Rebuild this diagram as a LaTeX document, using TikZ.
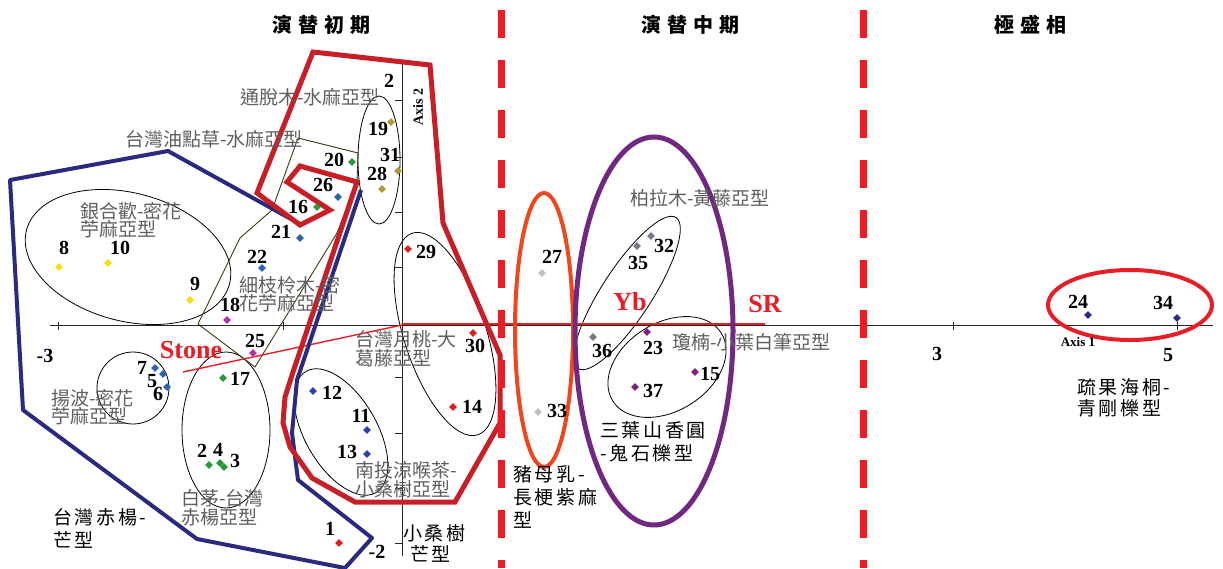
\documentclass[tikz,border=0pt]{standalone}
\usepackage{fontspec}
\setmainfont{Liberation Serif}
\newfontfamily\cjk{Noto Sans CJK TC}
\newfontfamily\cjks[LetterSpace=14]{Noto Sans CJK TC}
\newfontfamily\cjkt[LetterSpace=30]{Noto Sans CJK TC}
\usetikzlibrary{shapes.geometric}
\definecolor{dashred}{RGB}{232,30,38}
\definecolor{polyred}{RGB}{200,30,38}
\definecolor{polyblue}{RGB}{42,42,128}
\definecolor{purp}{RGB}{112,40,128}
\definecolor{orng}{RGB}{240,70,30}
\definecolor{grpgray}{RGB}{95,95,95}
\definecolor{cyel}{RGB}{245,225,0}
\definecolor{csteel}{RGB}{40,100,175}
\definecolor{cgreen}{RGB}{40,150,60}
\definecolor{colive}{RGB}{176,154,48}
\definecolor{cmag}{RGB}{176,48,160}
\definecolor{cred}{RGB}{225,30,30}
\definecolor{cblue}{RGB}{48,64,170}
\definecolor{clgray}{RGB}{190,190,200}
\definecolor{cgray}{RGB}{120,120,135}
\definecolor{cpurp}{RGB}{128,32,128}
\definecolor{cnavy}{RGB}{42,42,128}
\definecolor{yelline}{RGB}{60,60,20}
\begin{document}
\begin{tikzpicture}[x=1pt,y=-1pt,
  num/.style={font=\fontsize{20}{20}\selectfont\bfseries, inner sep=0},
  grp/.style={font=\cjk\fontsize{19}{18.5}\selectfont, text=grpgray, inner sep=0, align=left, anchor=west},
  blk/.style={font=\cjks\fontsize{19}{23}\selectfont, inner sep=0, align=left, anchor=west},
  ttl/.style={font=\cjkt\bfseries\fontsize{20}{20}\selectfont, inner sep=0},
  pt/.style={diamond, fill=#1, inner sep=0, minimum size=8pt},
  redlab/.style={font=\fontsize{26}{26}\selectfont\bfseries, text=dashred, inner sep=0},
  thinline/.style={line width=0.8pt, black},
  axisline/.style={line width=0.8pt, black!85},
  dashline/.style={dashred, line width=7pt, dash pattern=on 28pt off 22pt}
]
\useasboundingbox[fill=white] (0,0) rectangle (1223,568);

% ---------- thin group outlines ----------
\draw[thinline, shift={(128,257)}, rotate=-15] (0,0) ellipse [x radius=105pt, y radius=64pt];
\draw[thinline] (133,388) circle [radius=36pt];
\draw[thinline] (226,430) ellipse [x radius=44pt, y radius=78pt];
\draw[thinline] (379,160) ellipse [x radius=21pt, y radius=64pt];
\draw[thinline, shift={(445,334)}, rotate=-72] (0,0) ellipse [x radius=106pt, y radius=41pt];
\draw[thinline, shift={(341,432)}, rotate=-60] (0,0) ellipse [x radius=70pt, y radius=36pt];
\draw[thinline, shift={(627,293)}, rotate=57] (0,0) ellipse [x radius=90pt, y radius=25pt];
\draw[thinline, shift={(667,367)}, rotate=32] (0,0) ellipse [x radius=64pt, y radius=44pt];
\draw[line width=0.9pt, yelline] (298,138) -- (358,153) -- (357,182) -- (337,233) -- (255,367) -- (198,324) -- (240,238) -- (272,210) -- cycle;

% ---------- axes ----------
\coordinate (hx0) at (50,325); \coordinate (hx1) at (1213,325);
\coordinate (vy0) at (402,64); \coordinate (vy1) at (402,556);
\draw[axisline] (hx0) -- (hx1);
\draw[axisline] (vy0) -- (vy1);
\foreach \t in {100,157,212,267,377,433,488,543} \draw[axisline] (402,\t) -- (395,\t);
\foreach \t in {58,283,953,1177} \draw[axisline] (\t,322) -- (\t,330);

% red reference lines
\coordinate (o) at (402,324);
\coordinate (sr) at (765,324);
\coordinate (st) at (183,372);
\draw[dashred, line width=1.6pt] (o) -- (sr);
\draw[dashred, line width=1.4pt] (st) -- (402,325);

% ---------- big coloured outlines ----------
\draw[polyblue, line width=4pt, line join=round] (300,224) -- (168,151) -- (10,180) -- (23,410) -- (197,539) -- (345,568) -- (372,538) -- (298,480) -- (292,433) -- (297,380) -- (361,190);
\draw[polyred, line width=5pt, line join=miter] (313,52) -- (430,65) -- (443,223) -- (500,355) -- (500,423) -- (455,502) -- (355,502) -- (312,478) -- (290,447) -- (283,423) -- (285,397) -- (293,372) -- (357,182) -- (300,166) -- (287,182) -- (330,210) -- (300,225) -- (257,193) -- cycle;
\draw[orng, line width=4pt] (544,330) ellipse [x radius=29pt, y radius=137pt];
\draw[purp, line width=5pt] (654,331) ellipse [x radius=79pt, y radius=194pt];
\draw[dashred, line width=4pt] (1130,305) ellipse [x radius=82pt, y radius=35pt];

% ---------- dashed separators ----------
\coordinate (d1a) at (501,10); \coordinate (d1b) at (501,568);
\coordinate (d2a) at (863,10); \coordinate (d2b) at (863,568);
\draw[dashline] (d1a) -- (d1b);
\draw[dashline] (d2a) -- (d2b);

% ---------- titles ----------
\node[ttl] (t1) at (321,25) {演替初期};
\node[ttl] (t2) at (690,25) {演替中期};
\node[ttl] (t3) at (1030,25) {極盛相};

% ---------- points ----------
\node[pt=cyel] (p8) at (59,267) {};
\node[pt=cyel] (p10) at (108,263) {};
\node[pt=cyel] (p9) at (190,300) {};
\node[pt=csteel] (p22) at (262,268) {};
\node[pt=cmag] (p18) at (227,320) {};
\node[pt=cmag] (p25) at (253,353) {};
\node[pt=csteel] (p21) at (300,238) {};
\node[pt=cgreen] (p16) at (317,207) {};
\node[pt=csteel] (p26) at (338,197) {};
\node[pt=cgreen] (p20) at (352,162) {};
\node[pt=colive] (p19) at (391,122) {};
\node[pt=colive] (p31) at (398,171) {};
\node[pt=colive] (p28) at (382,189) {};
\node[pt=cred] (p29) at (408,249) {};
\node[pt=cred] (p30) at (473,333) {};
\node[pt=cred] (p14) at (453,407) {};
\node[pt=cblue] (p12) at (313,391) {};
\node[pt=cblue] (p11) at (367,430) {};
\node[pt=cblue] (p13) at (367,454) {};
\node[pt=cred] (p1) at (339,543) {};
\node[pt=csteel] (p7) at (155,368) {};
\node[pt=csteel] (p5) at (163,374) {};
\node[pt=csteel] (p6) at (167,387) {};
\node[pt=cgreen] (p17) at (223,378) {};
\node[pt=cgreen] (p2) at (209,465) {};
\node[pt=cgreen] (p4) at (220,463) {};
\node[pt=cgreen] (p3) at (224,467) {};
\node[pt=clgray] (p27) at (542,273) {};
\node[pt=clgray] (p33) at (538,412) {};
\node[pt=cgray] (p35) at (637,246) {};
\node[pt=cgray] (p32) at (651,236) {};
\node[pt=cgray] (p36) at (593,337) {};
\node[pt=cpurp] (p23) at (647,332) {};
\node[pt=cpurp] (p15) at (695,372) {};
\node[pt=cpurp] (p37) at (635,387) {};
\node[pt=cnavy] (p24) at (1088,315) {};
\node[pt=cnavy] (p34) at (1177,318) {};

% ---------- point labels ----------
\node[num] (l8) at (64,248) {8};
\node[num] (l10) at (120,248) {10};
\node[num] (l9) at (195,284) {9};
\node[num] (l22) at (257,257) {22};
\node[num] (l18) at (230,305) {18};
\node[num] (l25) at (255,341) {25};
\node[num] (l21) at (281,232) {21};
\node[num] (l16) at (298,207) {16};
\node[num] (l26) at (323,185) {26};
\node[num] (l20) at (334,160) {20};
\node[num] (l19) at (378,129) {19};
\node[num] (l31) at (390,155) {31};
\node[num] (l28) at (377,174) {28};
\node[num] (l29) at (426,252) {29};
\node[num] (l30) at (475,346) {30};
\node[num] (l14) at (472,407) {14};
\node[num] (l12) at (332,393) {12};
\node[num] (l11) at (361,416) {11};
\node[num] (l13) at (347,452) {13};
\node[num] (l1) at (330,529) {1};
\node[num] (l7) at (142,368) {7};
\node[num] (l5) at (152,381) {5};
\node[num] (l6) at (158,394) {6};
\node[num] (l17) at (240,379) {17};
\node[num] (l2) at (202,451) {2};
\node[num] (l4) at (218,450) {4};
\node[num] (l3) at (235,461) {3};
\node[num] (l27) at (552,257) {27};
\node[num] (l33) at (557,411) {33};
\node[num] (l35) at (638,263) {35};
\node[num] (l32) at (664,246) {32};
\node[num] (l36) at (602,351) {36};
\node[num] (l23) at (653,348) {23};
\node[num] (l15) at (710,374) {15};
\node[num] (l37) at (653,391) {37};
\node[num] (l24) at (1078,302) {24};
\node[num] (l34) at (1163,303) {34};

% ---------- axis labels ----------
\node[num] (ay2) at (389,81) {2};
\node[num] (aym2) at (377,552) {-2};
\node[num] (axm3) at (45,356) {-3};
\node[num] (ax3) at (937,354) {3};
\node[num] (ax5) at (1168,355) {5};
\node[inner sep=0, font=\fontsize{13}{13}\selectfont\bfseries] (ax1) at (1078,342) {Axis 1};
\node[inner sep=0, font=\fontsize{14}{14}\selectfont\bfseries, rotate=90] (ax2) at (418,107) {Axis 2};

% ---------- red labels ----------
\node[redlab] (stone) at (191,350) {Stone};
\node[redlab] (yb) at (630,302) {Yb};
\node[redlab] (srl) at (765,304) {SR};

% ---------- grey subtype labels ----------
\node[grp] (g1) at (240,97) {通脫木-水麻亞型};
\node[grp] (g2) at (125,139) {台灣油點草-水麻亞型};
\node[grp] (g3) at (80,220) {銀合歡-密花\\苧麻亞型};
\node[grp] (g4) at (239,294) {細枝柃木-密\\花苧麻亞型};
\node[grp] (g5) at (355,349) {台灣月桃-大\\葛藤亞型};
\node[grp] (g6) at (51,407) {揚波-密花\\苧麻亞型};
\node[grp] (g7) at (181,508) {白茅-台灣\\赤楊亞型};
\node[grp] (g8) at (355,480) {南投涼喉茶-\\小桑樹亞型};
\node[grp] (g9) at (630,198) {柏拉木-黃藤亞型};
\node[grp] (g10) at (672,342) {瓊楠-小葉白筆亞型};

% ---------- black type labels ----------
\node[blk] (b1) at (53,528) {台灣赤楊-\\芒型};
\node[blk, font=\cjks\fontsize{19}{21}\selectfont] (b2) at (403,543) {小桑樹\\\hspace*{7pt}芒型};
\node[blk] (b3) at (513,497) {豬母乳-\\長梗紫麻\\型};
\node[blk] (b4) at (600,442) {三葉山香圓\\-鬼石櫟型};
\node[blk, font=\cjks\fontsize{19}{21}\selectfont] (b5) at (1077,398) {疏果海桐-\\青剛櫟型};
\end{tikzpicture}
\end{document}
